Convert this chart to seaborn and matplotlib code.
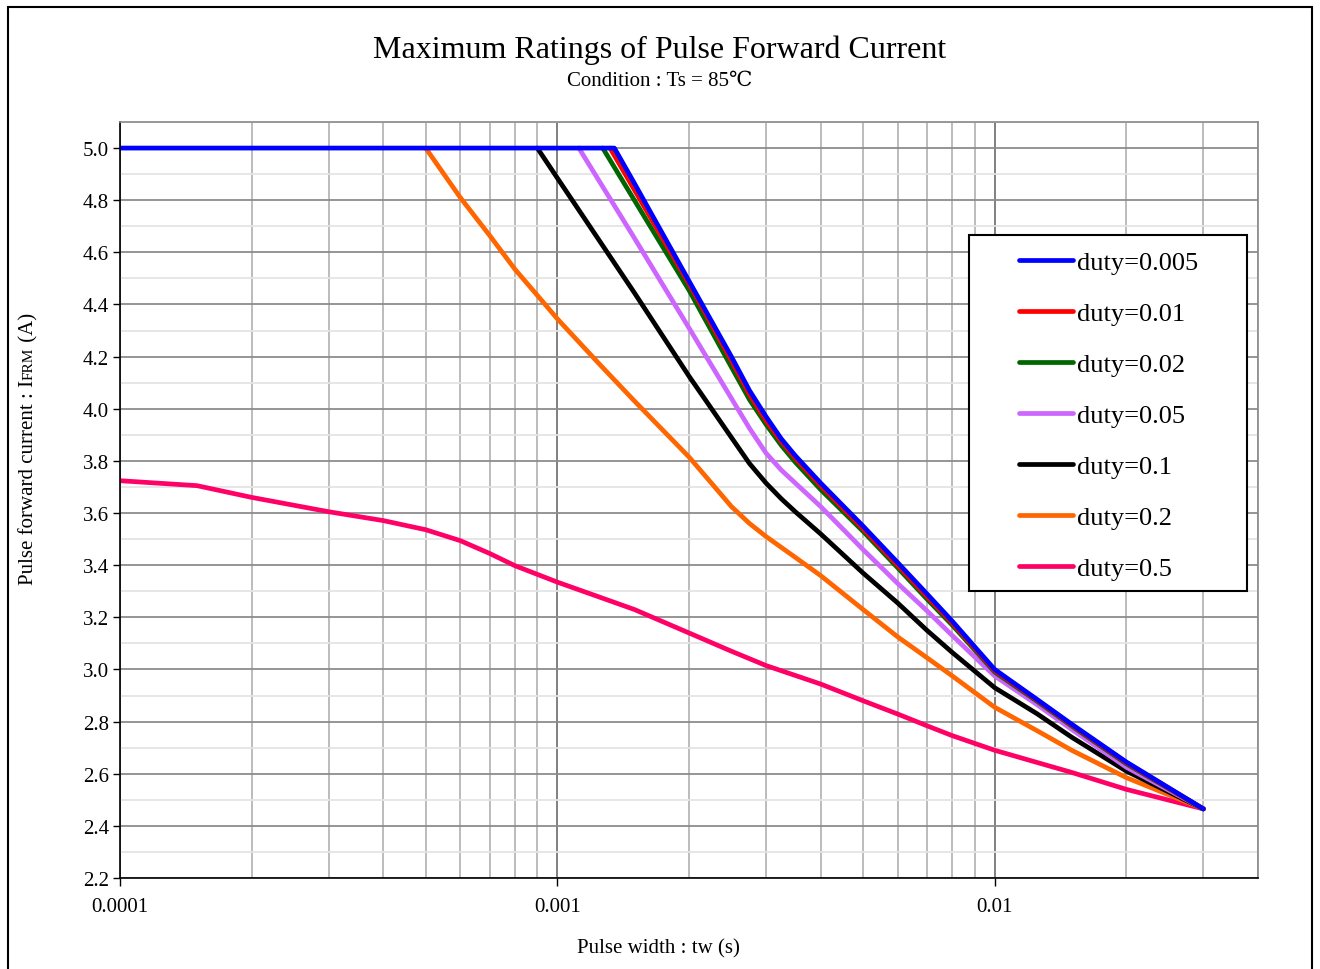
import matplotlib
matplotlib.use("Agg")
import pandas as pd
import matplotlib.pyplot as plt
import seaborn as sns
from matplotlib.patches import Rectangle
from matplotlib.ticker import FixedLocator, MultipleLocator, LogLocator, NullFormatter
from matplotlib.transforms import IdentityTransform

# ---- data ----
duty_labels = ["duty=0.005", "duty=0.01", "duty=0.02", "duty=0.05",
               "duty=0.1", "duty=0.2", "duty=0.5"]
duty_colors = ["#0000FF", "#FF0000", "#006600", "#CC66FF",
               "#000000", "#FF6600", "#FF0066"]

tw_005 = [1e-4, 1.35e-3, 1.5e-3, 2e-3, 2.5e-3, 2.75e-3, 3e-3, 3.25e-3, 3.5e-3, 4e-3,
          5e-3, 6e-3, 7e-3, 8e-3, 1e-2, 1.25e-2, 1.5e-2, 2e-2, 3e-2]
if_005 = [5.0, 5.0, 4.865, 4.49, 4.20, 4.07, 3.97, 3.885, 3.82, 3.715,
          3.55, 3.41, 3.29, 3.185, 3.0, 2.885, 2.79, 2.645, 2.465]

tw_01 = [1.32e-3, 1.5e-3, 2e-3, 2.5e-3, 2.75e-3, 3e-3, 3.25e-3, 3.5e-3, 4e-3,
         5e-3, 6e-3, 7e-3, 8e-3, 1e-2, 1.25e-2, 1.5e-2, 2e-2, 3e-2]
if_01 = [5.0, 4.84, 4.48, 4.185, 4.055, 3.955, 3.875, 3.81, 3.705,
         3.54, 3.40, 3.28, 3.178, 2.995, 2.882, 2.787, 2.642, 2.465]

tw_02 = [1.27e-3, 1.5e-3, 2e-3, 2.5e-3, 2.75e-3, 3e-3, 3.25e-3, 3.5e-3, 4e-3,
         5e-3, 6e-3, 7e-3, 8e-3, 1e-2, 1.25e-2, 1.5e-2, 2e-2, 3e-2]
if_02 = [5.0, 4.80, 4.455, 4.16, 4.035, 3.94, 3.86, 3.795, 3.69,
         3.53, 3.39, 3.27, 3.17, 2.99, 2.878, 2.783, 2.638, 2.465]

tw_05 = [1.12e-3, 1.5e-3, 2e-3, 2.5e-3, 2.75e-3, 3e-3, 3.25e-3, 3.5e-3, 4e-3,
         5e-3, 6e-3, 7e-3, 8e-3, 1e-2, 1.25e-2, 1.5e-2, 2e-2, 3e-2]
if_05 = [5.0, 4.655, 4.31, 4.04, 3.925, 3.83, 3.765, 3.715, 3.625,
         3.46, 3.33, 3.225, 3.13, 2.975, 2.865, 2.77, 2.625, 2.465]

tw_1 = [9e-4, 1e-3, 1.5e-3, 2e-3, 2.5e-3, 2.75e-3, 3e-3, 3.25e-3, 3.5e-3, 4e-3,
        5e-3, 6e-3, 7e-3, 8e-3, 1e-2, 1.25e-2, 1.5e-2, 2e-2, 3e-2]
if_1 = [5.0, 4.885, 4.445, 4.125, 3.89, 3.79, 3.715, 3.655, 3.605, 3.52,
        3.37, 3.255, 3.15, 3.065, 2.93, 2.83, 2.74, 2.61, 2.465]

tw_2 = [5e-4, 6e-4, 7e-4, 8e-4, 9e-4, 1e-3, 1.25e-3, 1.5e-3, 2e-3, 2.25e-3,
        2.5e-3, 2.75e-3, 3e-3, 3.5e-3, 4e-3, 5e-3, 6e-3, 7e-3, 8e-3, 1e-2,
        1.25e-2, 1.5e-2, 2e-2, 3e-2]
if_2 = [5.0, 4.81, 4.665, 4.535, 4.435, 4.345, 4.17, 4.03, 3.815, 3.715,
        3.625, 3.56, 3.51, 3.43, 3.36, 3.23, 3.125, 3.045, 2.975, 2.855,
        2.765, 2.69, 2.585, 2.465]

tw_5 = [1e-4, 1.5e-4, 2e-4, 3e-4, 4e-4, 5e-4, 6e-4, 7e-4, 8e-4, 1e-3,
        1.5e-3, 2e-3, 2.5e-3, 3e-3, 4e-3, 5e-3, 6e-3, 7e-3, 8e-3, 1e-2,
        1.5e-2, 2e-2, 3e-2]
if_5 = [3.724, 3.705, 3.66, 3.605, 3.571, 3.536, 3.494, 3.445, 3.398, 3.335,
        3.23, 3.14, 3.07, 3.015, 2.944, 2.88, 2.829, 2.784, 2.746, 2.69,
        2.605, 2.54, 2.465]

tw_all = [tw_005, tw_01, tw_02, tw_05, tw_1, tw_2, tw_5]
if_all = [if_005, if_01, if_02, if_05, if_1, if_2, if_5]

y_ticks = [2.2, 2.4, 2.6, 2.8, 3.0, 3.2, 3.4, 3.6, 3.8, 4.0, 4.2, 4.4, 4.6, 4.8, 5.0]
x_ticks = [1e-4, 1e-3, 1e-2]
x_ticklabels = ["0.0001", "0.001", "0.01"]

# ---- figure ----
sns.set_theme(style="white")
plt.rcParams["font.family"] = ["Liberation Serif", "DejaVu Serif"]
plt.rcParams["text.color"] = "black"
plt.rcParams["axes.labelcolor"] = "black"
plt.rcParams["xtick.color"] = "black"
plt.rcParams["ytick.color"] = "black"

W, H = 1320, 970
fig = plt.figure(figsize=(W / 100, H / 100), dpi=100)
ax = fig.add_axes([120 / W, 1 - 879 / H, 1138 / W, 756 / H])

# draw in reverse so duty=0.005 ends on top, as in the datasheet
for label, color, tw, cur in reversed(list(zip(duty_labels, duty_colors, tw_all, if_all))):
    df = pd.DataFrame({"tw": tw, "ifrm": cur})
    sns.lineplot(data=df, x="tw", y="ifrm", color=color, lw=3, label=label,
                 ax=ax, sort=False, estimator=None,
                 solid_capstyle="round", solid_joinstyle="round")

ax.set_xscale("log")
ax.set_xlim(1e-4, 0.04)
ax.set_ylim(2.2, 5.1)

ax.xaxis.set_major_locator(FixedLocator(x_ticks))
ax.set_xticklabels(x_ticklabels)
ax.xaxis.set_minor_locator(LogLocator(base=10, subs=range(2, 10)))
ax.xaxis.set_minor_formatter(NullFormatter())
ax.yaxis.set_major_locator(FixedLocator(y_ticks))
ax.yaxis.set_minor_locator(MultipleLocator(0.1))
ax.set_yticklabels([f"{v:.1f}" for v in y_ticks])

ax.set_axisbelow(True)
ax.grid(which="major", axis="x", color="#808080", lw=1.4)
ax.grid(which="minor", axis="x", color="#bcbcbc", lw=1.4)
ax.grid(which="major", axis="y", color="#8c8c8c", lw=1.3)
ax.grid(which="minor", axis="y", color="#e4e4e4", lw=1.3)

ax.tick_params(axis="both", which="major", direction="out", color="black",
               width=1, labelsize=15, labelcolor="black")
ax.tick_params(axis="y", which="major", length=5, pad=3, left=True)
ax.tick_params(axis="x", which="major", length=6, pad=8, bottom=True)
ax.tick_params(which="minor", length=0)

for side in ["left", "bottom"]:
    ax.spines[side].set_color("black")
    ax.spines[side].set_linewidth(1.2)
for side in ["top", "right"]:
    ax.spines[side].set_color("#888888")
    ax.spines[side].set_linewidth(1.2)
ax.set_xlabel("")
ax.set_ylabel("")

# legend: entries without matplotlib frame, box drawn separately
handles, labels = ax.get_legend_handles_labels()
for h in handles:
    h.set_linewidth(3.4)
ax.legend(handles[::-1], labels[::-1], loc="upper left",
          bbox_to_anchor=(1019 / W, 1 - 252 / H), bbox_transform=fig.transFigure,
          frameon=False, fontsize=19, handlelength=2.05, handletextpad=0.15,
          labelspacing=1.04, borderpad=0, borderaxespad=0)
ax.add_patch(Rectangle((969 / W, 1 - 592 / H), 278 / W, 356 / H,
                       transform=fig.transFigure, facecolor="white",
                       edgecolor="black", lw=1.5, zorder=4))
ax.get_legend().set_zorder(6)

# titles and axis labels
fig.text(0.5, 1 - 58 / H, "Maximum Ratings of Pulse Forward Current",
         ha="center", va="baseline", fontsize=23)
fig.text(0.5, 1 - 86 / H, "Condition : Ts = 85\u2103",
         ha="center", va="baseline", fontsize=15)
fig.text(658 / W, 1 - 953 / H, "Pulse width : tw (s)",
         ha="center", va="baseline", fontsize=15)

# y label with small-cap style subscript, built piece by piece
renderer = fig.canvas.get_renderer()
ypos = H - 585
for text, size in [("Pulse forward current : I", 15), ("FRM", 11), (" (A)", 15)]:
    t = fig.text(33, ypos, text, fontsize=size, rotation=90, rotation_mode="anchor",
                 ha="left", va="baseline", transform=IdentityTransform())
    ypos = t.get_window_extent(renderer).y1

# outer frame of the chart image
fig.add_artist(Rectangle((8 / W, -0.01), 1304 / W, 1 - 8 / H + 0.01,
                         transform=fig.transFigure, fill=False,
                         edgecolor="black", lw=1.5))

fig.savefig("out.png", dpi=100)
